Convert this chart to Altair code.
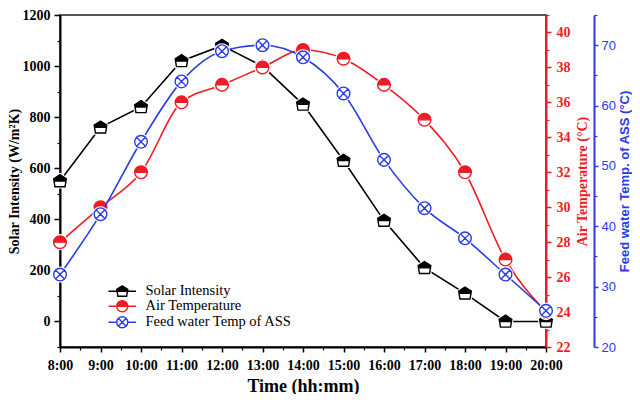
import altair as alt
import pandas as pd

# ---------------- data ----------------
hours = [8, 9, 10, 11, 12, 13, 14, 15, 16, 17, 18, 19, 20]
solar = [550, 760, 840, 1020, 1080, 1000, 850, 630, 395, 210, 110, 0, 0]
air = [28, 30, 32, 36, 37, 38, 39, 38.5, 37, 35, 32, 27, 24]
feed = [32, 42, 54, 64, 69, 70, 68, 62, 51, 43, 38, 32, 26]
series_names = ["Solar Intensity", "Air Temperature", "Feed water Temp of ASS"]

solar_ticks = [0, 200, 400, 600, 800, 1000, 1200]
solar_minor = [-100, 100, 300, 500, 700, 900, 1100]
air_ticks = [22, 24, 26, 28, 30, 32, 34, 36, 38, 40]
air_minor = [23, 25, 27, 29, 31, 33, 35, 37, 39, 41]
feed_ticks = [20, 30, 40, 50, 60, 70]
feed_minor = [25, 35, 45, 55, 65, 75]
hour_minor = [h + 0.5 for h in hours[:-1]]

df_s = pd.DataFrame({"hour": hours, "value": solar, "series": series_names[0]})
df_a = pd.DataFrame({"hour": hours, "value": air, "series": series_names[1]})
df_f = pd.DataFrame({"hour": hours, "value": feed, "series": series_names[2]})
df_leg = pd.DataFrame({"series": series_names})

SERIF = "Liberation Serif"
SANS = "Liberation Sans"
BLACK = "#000000"
RED = "#ee1c24"
BLUE = "#2b3be6"

# marker shapes (unit square [-1, 1])
PENT = "M0,-1L1,-0.35L0.8,0.9L-0.8,0.9L-1,-0.35Z"
PENT_HALF = PENT + "M-0.944,0L-0.8,0.9L0.8,0.9L0.944,0Z"
CIRC = "M-1,0A1,1 0 0,1 1,0A1,1 0 0,1 -1,0Z"
CIRC_HALF = CIRC + "M1,0L-1,0A1,1 0 0,0 1,0Z"
XCIRC = CIRC + "M-0.707,-0.707L0.707,0.707M-0.707,0.707L0.707,-0.707"
SEG = "M-2.5,0L-1,0M1,0L2.5,0"

fill_scale = alt.Scale(domain=series_names, range=[BLACK, RED, "white"])
stroke_scale = alt.Scale(domain=series_names, range=[BLACK, RED, BLUE])
shape_scale = alt.Scale(domain=series_names,
                        range=[SEG + PENT_HALF, SEG + CIRC_HALF, SEG + XCIRC])

legend = alt.Legend(
    title=None, orient="none", legendX=55, legendY=269, padding=0,
    labelFont=SERIF, labelFontSize=14.5, labelColor="black", labelOffset=16,
    symbolSize=121, symbolStrokeWidth=1.4, rowPadding=-3.5, symbolOpacity=1,
)

xscale = alt.Scale(domain=[8, 20], nice=False, zero=False)
x_major = alt.X(
    "hour:Q", scale=xscale,
    axis=alt.Axis(
        orient="bottom", values=hours, labelExpr="datum.value + ':00'",
        title="Time (hh:mm)", titleFont=SERIF, titleFontSize=18, titleFontWeight="bold",
        titleColor="black", titlePadding=5,
        labelFont=SERIF, labelFontSize=14, labelFontWeight="bold", labelColor="black",
        labelPadding=6, labelFlush=False, labelOverlap=False,
        tickSize=5, tickWidth=1.5, tickColor="black",
        domainColor="black", domainWidth=2, grid=False,
    ),
)
x_minor = alt.X(
    "hour:Q", scale=xscale,
    axis=alt.Axis(
        orient="bottom", values=hour_minor, labels=False, title="", domain=False,
        tickSize=3, tickWidth=1.2, tickColor="black", grid=False,
    ),
)
x_none = alt.X("hour:Q", scale=xscale, axis=None)


def major_axis(orient, values, title, color, font, lfont, lweight, lsize, tsize_font,
               offset, tpad, lpad, tsize, baseline):
    return alt.Axis(
        orient=orient, values=values, offset=offset, title=title, format="d",
        titleFont=font, titleFontSize=tsize_font, titleFontWeight="bold", titleColor=color,
        titlePadding=tpad, titleAngle=270, titleBaseline=baseline,
        labelFont=lfont, labelFontSize=lsize, labelFontWeight=lweight, labelColor=color,
        labelPadding=lpad, labelOverlap=False, labelFlush=False,
        tickSize=tsize, tickWidth=1.5, tickColor=color,
        domainColor=color, domainWidth=2, grid=False,
    )


def minor_axis(orient, values, color, offset):
    return alt.Axis(
        orient=orient, values=values, offset=offset, labels=False, title="",
        domain=False, tickSize=3, tickWidth=1.2, tickColor=color, grid=False,
    )


def series_layer(df, ydomain, ax_major, ax_minor, color, full_shape, marker_shape,
                 interp, xa, xb):
    ysc = alt.Scale(domain=ydomain, nice=False, zero=False)
    line = alt.Chart(df).mark_line(color=color, strokeWidth=1.6, interpolate=interp).encode(
        x=xa, y=alt.Y("value:Q", scale=ysc, axis=ax_major)
    )
    under = alt.Chart(df).mark_point(
        shape=full_shape, size=160, filled=True, fill="white", stroke="white",
        strokeWidth=3.5, opacity=1
    ).encode(x=xb, y=alt.Y("value:Q", scale=ysc, axis=ax_minor))
    pts = alt.Chart(df).mark_point(
        shape=marker_shape, size=160, filled=True, strokeWidth=1.4, opacity=1
    ).encode(
        x=x_none,
        y=alt.Y("value:Q", scale=ysc, axis=None),
        fill=alt.Fill("series:N", scale=fill_scale, legend=legend),
        stroke=alt.Stroke("series:N", scale=stroke_scale, legend=legend),
    )
    return alt.layer(line, under, pts).resolve_axis(y="independent", x="independent")


# legend carrier: shape scale holds the "line + marker" legend glyphs
legend_layer = alt.Chart(df_leg).mark_point(
    filled=True, size=0, strokeWidth=1.4, opacity=1
).encode(
    fill=alt.Fill("series:N", scale=fill_scale, legend=legend),
    stroke=alt.Stroke("series:N", scale=stroke_scale, legend=legend),
    shape=alt.Shape("series:N", scale=shape_scale, legend=legend),
)

black = series_layer(
    df_s, [-100, 1200],
    major_axis("left", solar_ticks, "Solar Intensity (W/m²K)", "black", SERIF, SERIF,
               "bold", 14, 14, 0, 1, 4, 6, "bottom"),
    minor_axis("left", solar_minor, "black", 0),
    BLACK, PENT, PENT_HALF, "linear", x_major, x_minor,
)
red = series_layer(
    df_a, [22, 41],
    major_axis("right", air_ticks, "Air Temperature (°C)", RED, SERIF, SERIF,
               "bold", 14, 14, 0, 5, 5, 5, "top"),
    minor_axis("right", air_minor, RED, 0),
    RED, CIRC, CIRC_HALF, "monotone", x_none, x_none,
)
blue = series_layer(
    df_f, [20, 75],
    major_axis("right", feed_ticks, "Feed water Temp. of ASS (°C)", BLUE, SANS, SANS,
               "normal", 13, 13, 48, 3, 3, 4, "top"),
    minor_axis("right", feed_minor, BLUE, 48),
    BLUE, CIRC, XCIRC, "monotone", x_none, x_none,
)

chart = (
    alt.layer(legend_layer, black, red, blue)
    .resolve_scale(y="independent")
    .resolve_axis(y="independent", x="independent")
    .properties(
        width=486, height=332,
        autosize=alt.AutoSizeParams(type="none"),
        padding={"left": 52, "top": 7, "right": 86, "bottom": 47},
        background="white",
    )
    .configure_view(stroke="#555555", strokeWidth=2)
)

chart.save("out.html", embed_options={"renderer": "svg", "actions": False})
